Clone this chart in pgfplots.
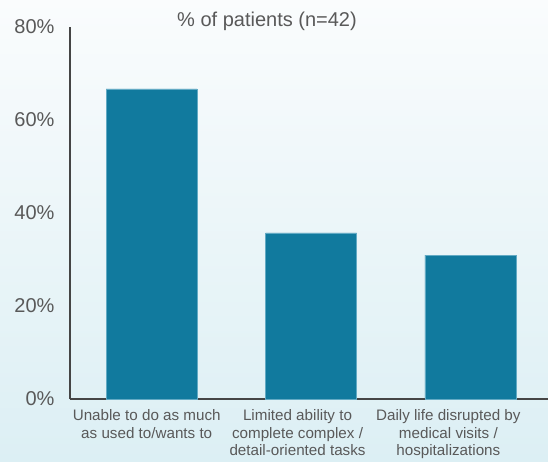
\documentclass[border=0pt]{standalone}
\usepackage{fontspec}
\setmainfont{Liberation Sans}
\usepackage{pgfplots}
\pgfplotsset{compat=1.18}
\definecolor{barc}{HTML}{117A9E}
\definecolor{baredge}{HTML}{62AAC4}
\definecolor{txt}{HTML}{595959}
\definecolor{axc}{HTML}{454545}
\definecolor{bgtop}{HTML}{FAFCFD}
\definecolor{bgbot}{HTML}{DCEFF4}
\begin{document}
\begin{tikzpicture}
\useasboundingbox (0,0) rectangle (548pt,461pt);
\shade[top color=bgtop,bottom color=bgbot] (0,0) rectangle (548pt,461pt);
\begin{axis}[
  at={(70pt,62pt)}, anchor=south west,
  scale only axis, width=480pt, height=372pt,
  xmin=-0.513, xmax=2.5, ymin=0, ymax=80,
  axis x line=bottom, axis y line=left,
  axis line style={-, axc, line width=1.9pt},
  major tick length=0pt,
  /pgf/number format/assume math mode=true,
  ytick={0,20,40,60,80},
  yticklabel={\pgfmathprintnumber{\tick}\%},
  yticklabel style={font=\fontsize{20}{24}\selectfont, text=txt, xshift=-12pt},
  xtick={0,1,2},
  xticklabels={{Unable to do as much\\as used to/wants to},{Limited ability to\\complete complex /\\detail-oriented tasks},{Daily life disrupted by\\medical visits /\\hospitalizations}},
  xticklabel style={font=\fontsize{15.2}{17.5}\selectfont, text=txt, align=center, anchor=north, yshift=-7pt, xshift={-5-8.5*\ticknum}},
  ybar, bar width=91pt,
]
\addplot[fill=barc, draw=baredge, line width=0.6pt] coordinates {(0,66.67) (1,35.71) (2,30.95)};
\end{axis}
\node[text=txt, font=\fontsize{20}{24}\selectfont] at (267pt,440pt) {\% of patients (n=42)};
\end{tikzpicture}
\end{document}
